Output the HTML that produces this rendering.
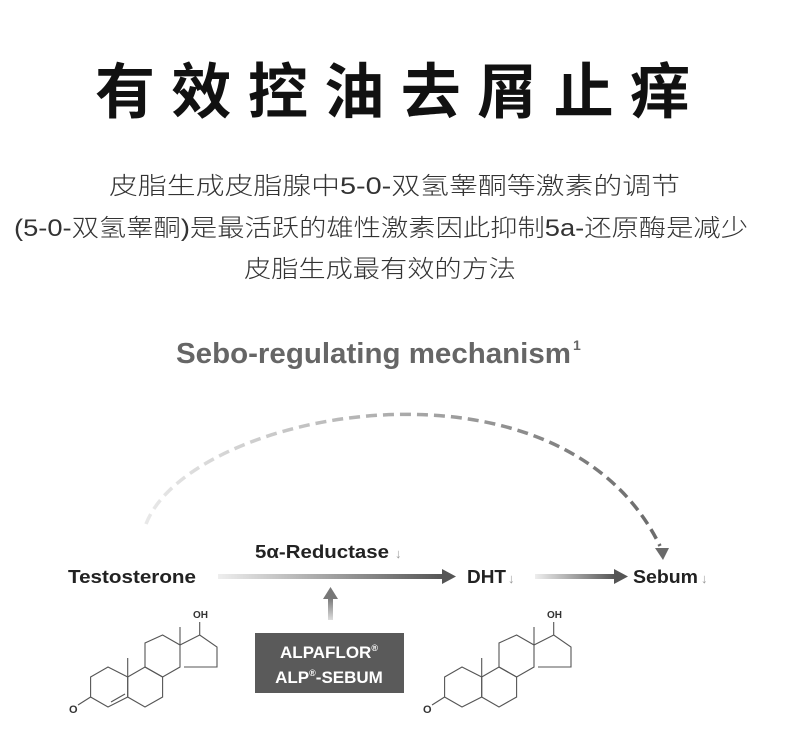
<!DOCTYPE html>
<html><head><meta charset="utf-8"><style>
body{margin:0;width:790px;height:744px;background:#fff;position:relative;overflow:hidden;font-family:"Liberation Sans","Noto Sans CJK SC",sans-serif}
</style></head><body>
<svg width="790" height="744" style="position:absolute;left:0;top:0" font-family="Liberation Sans, Noto Sans CJK SC, sans-serif">
<defs>
<linearGradient id="arc" x1="0" x2="1"><stop offset="0" stop-color="#e8e8e8"/><stop offset="0.5" stop-color="#aaa"/><stop offset="1" stop-color="#6a6a6a"/></linearGradient>
<linearGradient id="a1" x1="0" x2="1"><stop offset="0" stop-color="#eee"/><stop offset="1" stop-color="#555"/></linearGradient>
<linearGradient id="a2" x1="0" x2="0" y1="1" y2="0"><stop offset="0" stop-color="#ddd"/><stop offset="1" stop-color="#777"/></linearGradient>
</defs>
<text x="95" y="113" font-size="60" font-weight="bold" fill="#111" textLength="595" lengthAdjust="spacing">有效控油去屑止痒</text>
<g font-size="24" fill="#333" font-weight="300">
<text x="109" y="194" textLength="571" lengthAdjust="spacingAndGlyphs">皮脂生成皮脂腺中5-0-双氢睾酮等激素的调节</text>
<text x="14" y="236" textLength="734" lengthAdjust="spacingAndGlyphs">(5-0-双氢睾酮)是最活跃的雄性激素因此抑制5a-还原酶是减少</text>
<text x="244" y="277" textLength="272" lengthAdjust="spacingAndGlyphs">皮脂生成最有效的方法</text>
</g>
<text x="176" y="363" font-size="29" font-weight="bold" fill="#666" textLength="395" lengthAdjust="spacingAndGlyphs">Sebo-regulating mechanism</text>
<text x="573" y="350" font-size="14" font-weight="bold" fill="#666">1</text>
<path d="M146 524 C 190 410, 560 340, 660 546" fill="none" stroke="url(#arc)" stroke-width="3.5" stroke-dasharray="11 6"/>
<polygon points="655,548 669,548 663,560" fill="#6a6a6a"/>
<g font-weight="bold" font-size="18" fill="#222">
<text x="68" y="583" textLength="128" lengthAdjust="spacingAndGlyphs">Testosterone</text>
<text x="255" y="558" textLength="134" lengthAdjust="spacingAndGlyphs">5α-Reductase</text>
<text x="467" y="583" textLength="39" lengthAdjust="spacingAndGlyphs">DHT</text>
<text x="633" y="583" textLength="65" lengthAdjust="spacingAndGlyphs">Sebum</text>
</g>
<g fill="#999" font-size="13"><text x="395" y="558">↓</text><text x="508" y="583">↓</text><text x="701" y="583">↓</text></g>
<rect x="218" y="574" width="225" height="5" fill="url(#a1)"/>
<polygon points="442,569 456,576.5 442,584" fill="#555"/>
<rect x="535" y="574" width="80" height="5" fill="url(#a1)"/>
<polygon points="614,569 628,576.5 614,584" fill="#555"/>
<rect x="328" y="598" width="5" height="22" fill="url(#a2)"/>
<polygon points="323,599 330.5,587 338,599" fill="#777"/>
<rect x="255" y="633" width="149" height="60" fill="#5a5a5a"/>
<text x="329" y="658" text-anchor="middle" fill="#fff" font-weight="bold" font-size="17">ALPAFLOR<tspan font-size="9" dy="-7">®</tspan></text>
<text x="329" y="683" text-anchor="middle" fill="#fff" font-weight="bold" font-size="17">ALP<tspan font-size="9" dy="-7">®</tspan><tspan dy="7">-SEBUM</tspan></text>
<g id="m" fill="none" stroke="#555" stroke-width="1.1">
<polygon points="90.6,677 108,667 127.7,677 127.7,697 108,707 90.6,697"/>
<polygon points="127.7,677 145,667 162.6,677 162.6,697 145,707 127.7,697"/>
<polygon points="145,667 145,643 162.6,635 180,645 180,667 162.6,677"/>
<polyline points="180,645 199.7,635 217,647 217,667 184,667"/>
<line x1="180" y1="645" x2="180" y2="627"/>
<line x1="127.7" y1="677" x2="127.7" y2="658"/>
<line x1="199.7" y1="635" x2="199.7" y2="622"/>
<line x1="90.6" y1="697" x2="78" y2="705"/>
</g>
<line x1="111" y1="702" x2="125" y2="694" stroke="#555" stroke-width="1.1"/>
<text x="193" y="618" font-size="10" font-weight="bold" fill="#333">OH</text>
<text x="69" y="713" font-size="11" font-weight="bold" fill="#333">O</text>
<use href="#m" x="354"/>
<text x="547" y="618" font-size="10" font-weight="bold" fill="#333">OH</text>
<text x="423" y="713" font-size="11" font-weight="bold" fill="#333">O</text>
</svg>
</body></html>
